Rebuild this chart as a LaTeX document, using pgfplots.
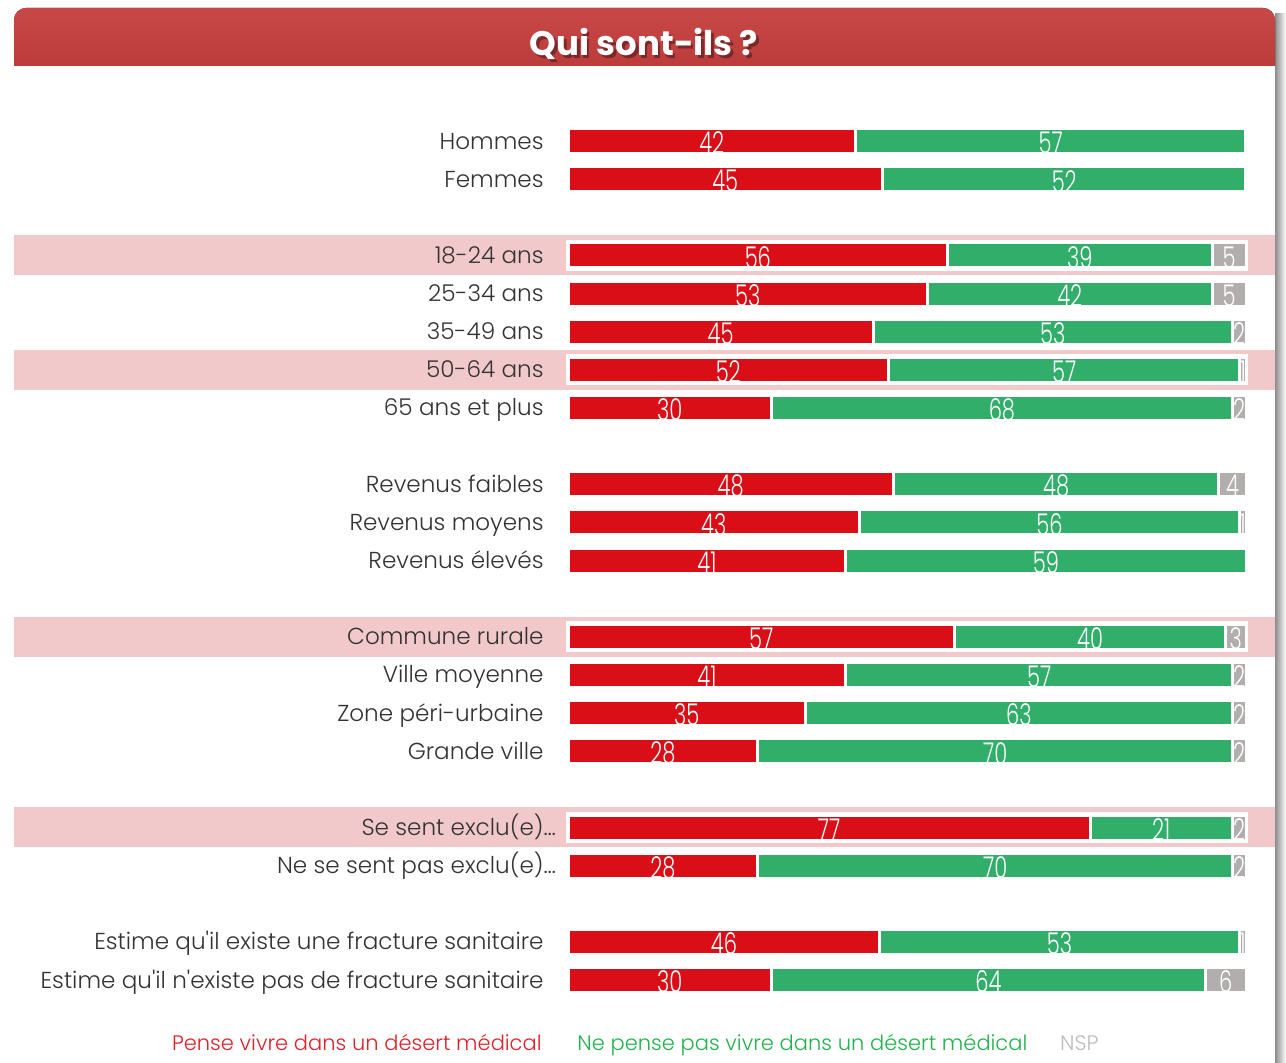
\documentclass[border=0pt]{standalone}
\usepackage{pgfplots}
\pgfplotsset{compat=1.18}
\usepackage{pgfplotstable}
\usepackage{fontspec}
\setmainfont{Poppins}
\newfontfamily\lightfont{Poppins}[UprightFont=* Light]
\newfontfamily\numfont{Poppins}[UprightFont=* Light, FakeStretch=0.7]
\definecolor{cred}{HTML}{D90E16}
\definecolor{cgreen}{HTML}{31AE6A}
\definecolor{cgray}{HTML}{B2AEAE}
\definecolor{pinkband}{HTML}{F2C9CB}
\definecolor{titletop}{HTML}{C84848}
\definecolor{titlebot}{HTML}{BC3B3B}
\definecolor{lred}{HTML}{E0202A}
\definecolor{lgreen}{HTML}{22B24C}
\definecolor{lgray}{HTML}{BDBDBD}
\definecolor{labelgray}{HTML}{333333}

\pgfplotstableread{
pos r g n nl
0 42 57 0 {}
1 45 52 0 {}
3 56 39 5 5
4 53 42 5 5
5 45 53 2 2
6 52 57 1 1
7 30 68 2 2
9 48 48 4 4
10 43 56 1 1
11 41 59 0 {}
13 57 40 3 3
14 41 57 2 2
15 35 63 2 2
16 28 70 2 2
18 77 21 2 2
19 28 70 2 2
21 46 53 1 1
22 30 64 6 6
}\datatable

\begin{document}
\begin{tikzpicture}[x=0.5pt,y=-0.5pt]
\path[use as bounding box] (0,0) rectangle (1286,1063);
% panel shadow and panel
\fill[left color=black!45, right color=white] (1275,14) rectangle (1286,1063);
\fill[white] (14,60) rectangle (1275,1063);
% title band
\fill[top color=titletop, bottom color=titlebot] (14,66) [rounded corners=6pt] -- (14,8) -- (1275,8) [sharp corners] -- (1275,66) -- cycle;
\node[text=black, opacity=0.35, font=\bfseries\fontsize{17}{20}\selectfont] at (646.5,46.5) {Qui sont-ils ?};
\node[text=white, font=\bfseries\fontsize{17}{20}\selectfont] at (644,44) {Qui sont-ils ?};
% highlighted rows
\foreach \s in {3,6,13,18} {
  \pgfmathsetmacro{\yy}{141+\s*38.136}
  \fill[pinkband] (14,\yy-20) rectangle (1275,\yy+20);
  \fill[white] (566,\yy-15.5) rectangle (1248,\yy+15.5);
}
\begin{axis}[
  at={(284pt,-60.965pt)}, anchor=north west,
  scale only axis, width=339pt, height=438.6pt,
  xmin=0, xmax=100, ymin=-0.5, ymax=22.5, y dir=reverse,
  xbar stacked, bar width=12.5pt,
  axis line style={draw=none}, xtick=\empty,
  ytick={0,1,3,4,5,6,7,9,10,11,13,14,15,16,18,19,21,22},
  yticklabels={{Hommes},{Femmes},{18-24 ans},{25-34 ans},{35-49 ans},{50-64 ans},{65 ans et plus},{Revenus faibles},{Revenus moyens},{Revenus élevés},{Commune rurale},{Ville moyenne},{Zone péri-urbaine},{Grande ville},{Se sent exclu(e)\rlap{…}},{Ne se sent pas exclu(e)\rlap{…}},{Estime qu'il existe une fracture sanitaire},{Estime qu'il n'existe pas de fracture sanitaire}},
  major tick length=0pt,
  yticklabel style={anchor=base east, inner sep=0pt, xshift=-12pt, yshift=-4pt, font=\lightfont\fontsize{11.55}{14}\selectfont, text=labelgray},
  point meta=explicit symbolic,
  nodes near coords,
  every node near coord/.append style={font=\numfont\fontsize{15}{15}\selectfont, text=white, anchor=center, inner sep=0pt, yshift=-1pt},
  clip=false,
]
\addplot[fill=cred, draw=white, line width=1.5pt] table[x expr={\thisrow{r}/(\thisrow{r}+\thisrow{g}+\thisrow{n})*100}, y=pos, meta=r] {\datatable};
\addplot[fill=cgreen, draw=white, line width=1.5pt] table[x expr={\thisrow{g}/(\thisrow{r}+\thisrow{g}+\thisrow{n})*100}, y=pos, meta=g] {\datatable};
\addplot[fill=cgray, draw=white, line width=1.5pt] table[x expr={\thisrow{n}/(\thisrow{r}+\thisrow{g}+\thisrow{n})*100}, y=pos, meta=nl] {\datatable};
\end{axis}
% legend
\node[anchor=base east, inner sep=0pt, text=lred, font=\lightfont\fontsize{10.5}{13}\selectfont] at (542,1050) {Pense vivre dans un désert médical};
\node[anchor=base west, inner sep=0pt, text=lgreen, font=\lightfont\fontsize{10.5}{13}\selectfont] (l2) at (577,1050) {Ne pense pas vivre dans un désert médical};
\node[anchor=base west, inner sep=0pt, text=lgray, font=\lightfont\fontsize{10.5}{13}\selectfont] at ([xshift=16pt]l2.base east) {NSP};
\end{tikzpicture}
\end{document}
